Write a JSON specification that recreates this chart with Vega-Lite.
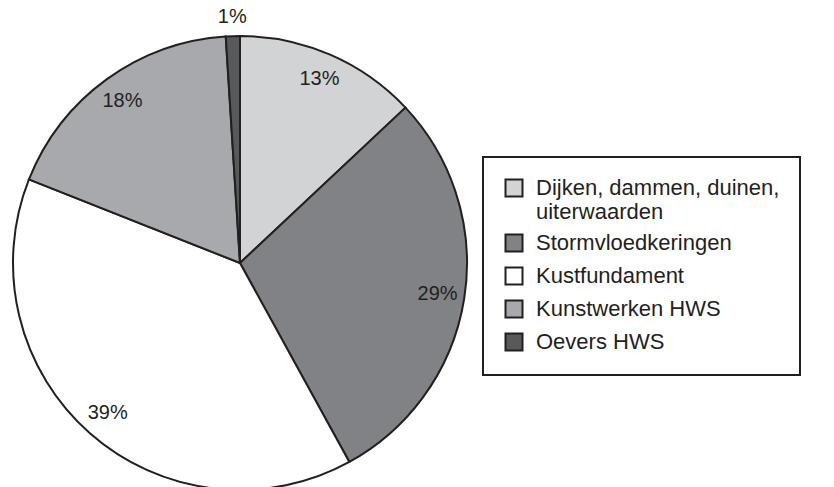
{
  "$schema": "https://vega.github.io/schema/vega-lite/v6.json",
  "width": 480,
  "height": 526,
  "padding": 0,
  "autosize": {"type": "pad"},
  "background": "white",
  "config": {"view": {"stroke": null}, "font": "Liberation Sans"},
  "data": {
    "values": [
      {"category": "Dijken, dammen, duinen, uiterwaarden", "value": 13, "label": "13%", "rank": 1},
      {"category": "Stormvloedkeringen", "value": 29, "label": "29%", "rank": 2},
      {"category": "Kustfundament", "value": 39, "label": "39%", "rank": 3},
      {"category": "Kunstwerken HWS", "value": 18, "label": "18%", "rank": 4},
      {"category": "Oevers HWS", "value": 1, "label": "1%", "rank": 5}
    ]
  },
  "encoding": {
    "theta": {"field": "value", "type": "quantitative", "stack": true},
    "order": {"field": "rank", "type": "quantitative", "sort": "ascending"}
  },
  "layer": [
    {
      "mark": {"type": "arc", "radius": 227, "stroke": "#231f20", "strokeWidth": 2},
      "encoding": {
        "color": {
          "field": "category",
          "type": "nominal",
          "scale": {
            "domain": ["Dijken, dammen, duinen, uiterwaarden", "Stormvloedkeringen", "Kustfundament", "Kunstwerken HWS", "Oevers HWS"],
            "range": ["#d1d3d4", "#808285", "#ffffff", "#a7a9ac", "#58595b"]
          },
          "legend": {
            "title": null,
            "orient": "none",
            "legendX": 483,
            "legendY": 157,
            "padding": 20,
            "strokeColor": "#231f20",
            "fillColor": "white",
            "symbolType": "square",
            "symbolSize": 289,
            "symbolStrokeColor": "#231f20",
            "symbolStrokeWidth": 2,
            "symbolOpacity": 1,
            "labelFont": "Liberation Sans",
            "labelFontSize": 22,
            "labelColor": "#231f20",
            "labelOffset": 11,
            "labelLimit": 400,
            "rowPadding": 7,
            "labelExpr": "datum.label == 'Dijken, dammen, duinen, uiterwaarden' ? ['Dijken, dammen, duinen,', 'uiterwaarden'] : datum.label",
            "encode": {"legend": {"update": {"strokeWidth": {"value": 2}, "width": {"value": 370}}}}
          }
        }
      }
    },
    {
      "mark": {"type": "text", "radius": 200, "fontSize": 20, "fill": "#231f20"},
      "encoding": {
        "text": {"condition": {"test": "datum.value > 1", "field": "label"}, "value": ""}
      }
    },
    {
      "mark": {"type": "text", "radius": 246, "fontSize": 20, "fill": "#231f20"},
      "encoding": {
        "text": {"condition": {"test": "datum.value <= 1", "field": "label"}, "value": ""}
      }
    }
  ]
}
